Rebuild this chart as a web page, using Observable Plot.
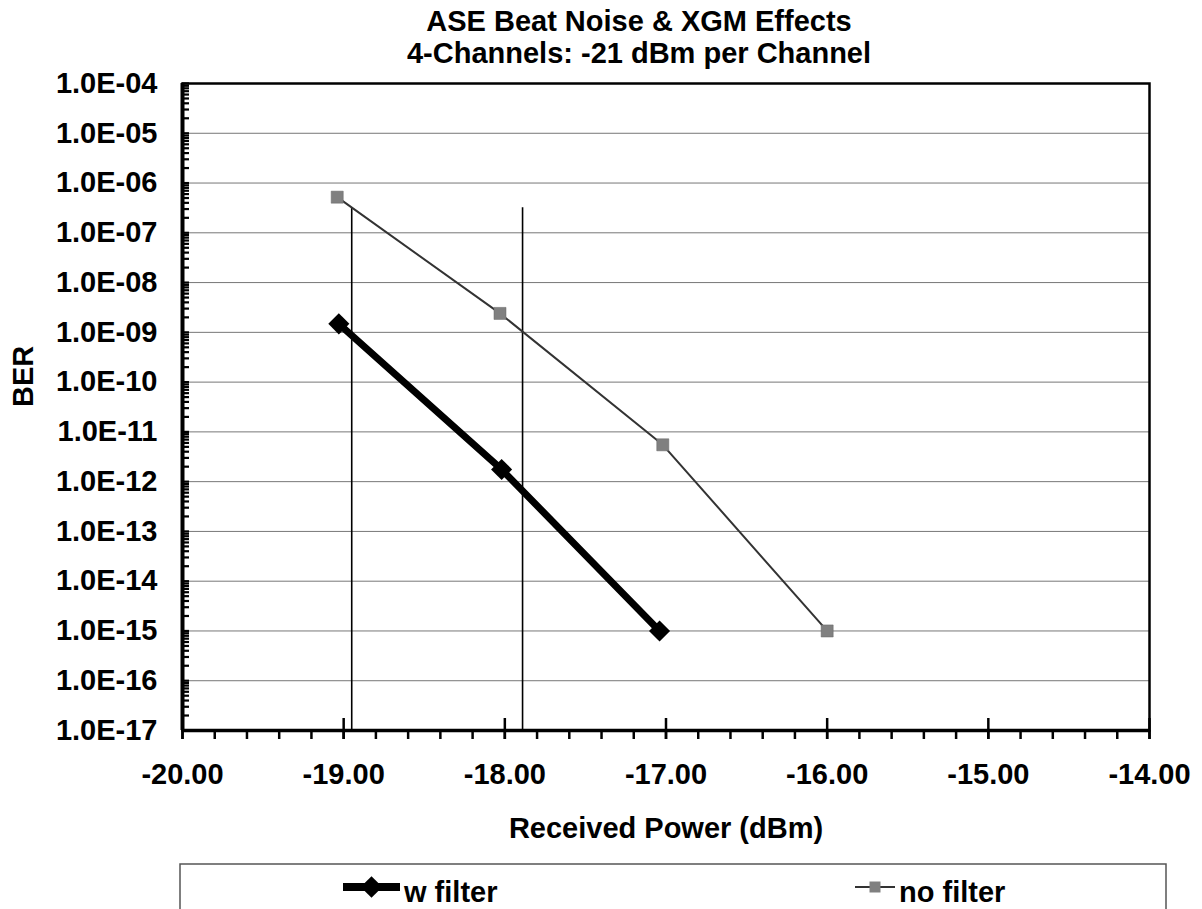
<!DOCTYPE html>
<html>
<head>
<meta charset="utf-8">
<script src="https://cdn.jsdelivr.net/npm/d3@7"></script>
<script src="https://cdn.jsdelivr.net/npm/@observablehq/plot@0.6"></script>
<style>
  body { margin: 0; background: #fff; font-family: "Liberation Sans", Arial, sans-serif; }
  #wrap { position: relative; width: 1202px; height: 909px; overflow: hidden; background: #fff; }
  .tl { position: absolute; left: 339px; width: 600px; text-align: center; height: 32px;
        font-weight: bold; font-size: 29px; line-height: 32px; color: #000; white-space: nowrap; }
  #t1 { top: 5px; }
  #t2 { top: 37px; }
  #chart { position: absolute; left: 0; top: 70px; }
  #legend { position: absolute; left: 0; top: 850px; }
</style>
</head>
<body>
<div id="wrap">
  <div class="tl" id="t1">ASE Beat Noise &amp; XGM Effects</div>
  <div class="tl" id="t2">4-Channels: -21 dBm per Channel</div>
  <div id="chart"></div>
  <div id="legend"></div>
</div>
<script>
// ---- data ----
const wFilterPower = [-19.03, -18.02, -17.04];
const wFilterBER   = [1.48e-9, 1.76e-12, 1.0e-15];
const noFilterPower = [-19.04, -18.03, -17.02, -16.0];
const noFilterBER   = [5.2e-7, 2.4e-9, 5.5e-12, 1.0e-15];
const refPower  = [-18.95, -17.89];
const refBottom = [1e-17, 1e-17];
const refTop    = [3.2e-7, 3.2e-7];
const xTicks = [-20, -19, -18, -17, -16, -15, -14];
const yTicks = [1e-17, 1e-16, 1e-15, 1e-14, 1e-13, 1e-12, 1e-11, 1e-10, 1e-9, 1e-8, 1e-7, 1e-6, 1e-5, 1e-4];
const seriesNames = ["w filter", "no filter"];
const xLabel = "Received Power (dBm)";
const yLabel = "BER";

const xMinor = d3.range(-20, -13.99, 0.2).map(v => Math.round(v * 10) / 10);
const yMinor = [];
for (const t of yTicks.slice(0, -1)) for (let m = 1; m <= 9; m++) yMinor.push(m * t);
yMinor.push(1e-4);

const wData = wFilterPower.map((x, i) => ({x, y: wFilterBER[i]}));
const nData = noFilterPower.map((x, i) => ({x, y: noFilterBER[i]}));
const refData = refPower.map((x, i) => ({x, y1: refBottom[i], y2: refTop[i]}));

const fmtY = d => {
  const e = Math.round(Math.log10(d));
  return "1.0E" + (e < 0 ? "-" : "+") + String(Math.abs(e)).padStart(2, "0");
};
const blank = () => "";
const FONT = '"Liberation Sans", Arial, sans-serif';

const chart = Plot.plot({
  width: 1202,
  height: 780,
  marginLeft: 182,
  marginRight: 53,
  marginTop: 13,
  marginBottom: 120,
  style: {fontFamily: FONT, fontSize: "29px", fontWeight: "bold", color: "black", background: "white", overflow: "visible"},
  x: {domain: [-20, -14]},
  y: {type: "log", domain: [1e-17, 1e-4]},
  marks: [
    Plot.gridY(yTicks, {stroke: "#777", strokeOpacity: 1, strokeWidth: 1}),
    Plot.ruleX(refData, {x: "x", y1: "y1", y2: "y2", stroke: "black", strokeWidth: 1.6}),
    Plot.line(nData, {x: "x", y: "y", stroke: "#333", strokeWidth: 2}),
    Plot.dot(nData, {x: "x", y: "y", symbol: "square", r: 6.8, fill: "#808080", stroke: "#666", strokeWidth: 0.5}),
    Plot.line(wData, {x: "x", y: "y", stroke: "black", strokeWidth: 7}),
    Plot.dot(wData, {x: "x", y: "y", symbol: "diamond2", r: 9.5, fill: "black"}),
    Plot.frame({stroke: "black", strokeWidth: 2.5}),
    Plot.axisY({ticks: yTicks, tickSize: 0, tickPadding: 25, tickFormat: fmtY, label: null}),
    Plot.axisY({ticks: yMinor, tickSize: 7, dx: 7, tickFormat: blank, label: null, strokeWidth: 2.2}),
    Plot.axisX({ticks: xTicks, tickSize: 9, tickPadding: 24, tickFormat: d => d.toFixed(2), label: null, strokeWidth: 2.5}),
    Plot.axisX({ticks: xMinor, tickSize: 9, tickFormat: blank, label: null, strokeWidth: 2.5}),
    Plot.axisX({ticks: xTicks, tickSize: 12, dy: -12, tickFormat: blank, label: null, strokeWidth: 2.5}),
    Plot.ruleX([-20], {stroke: "black", strokeWidth: 4}),
    Plot.ruleY([1e-17], {stroke: "black", strokeWidth: 3.5}),
    Plot.text([xLabel], {text: d => d, frameAnchor: "bottom", dy: 98, lineAnchor: "middle", fontSize: 29, fontWeight: "bold", fill: "black"}),
    Plot.text([yLabel], {text: d => d, frameAnchor: "left", dx: -159, rotate: -90, lineAnchor: "middle", fontSize: 29, fontWeight: "bold", fill: "black"})
  ]
});
document.getElementById("chart").appendChild(chart);

// ---- legend ----
const lg = d3.select("#legend").append("svg")
  .attr("width", 1202).attr("height", 59)
  .style("font-family", FONT).style("font-weight", "bold").style("font-size", "29px");
lg.append("rect").attr("x", 180).attr("y", 14).attr("width", 986).attr("height", 90)
  .attr("fill", "white").attr("stroke", "#555").attr("stroke-width", 1.5);
const legendItems = [
  {name: seriesNames[0], x0: 343, x1: 400, stroke: "black", sw: 8, sym: d3.symbolDiamond2, size: 300, fill: "black", tx: 404},
  {name: seriesNames[1], x0: 855, x1: 895, stroke: "#333", sw: 2, sym: d3.symbolSquare, size: 121, fill: "#808080", tx: 899}
];
for (const it of legendItems) {
  lg.append("line").attr("x1", it.x0).attr("x2", it.x1).attr("y1", 37).attr("y2", 37)
    .attr("stroke", it.stroke).attr("stroke-width", it.sw);
  lg.append("path").attr("d", d3.symbol(it.sym, it.size)())
    .attr("transform", `translate(${(it.x0 + it.x1) / 2},37)`).attr("fill", it.fill);
  lg.append("text").attr("x", it.tx).attr("y", 52).attr("fill", "black").text(it.name);
}
</script>
</body>
</html>
